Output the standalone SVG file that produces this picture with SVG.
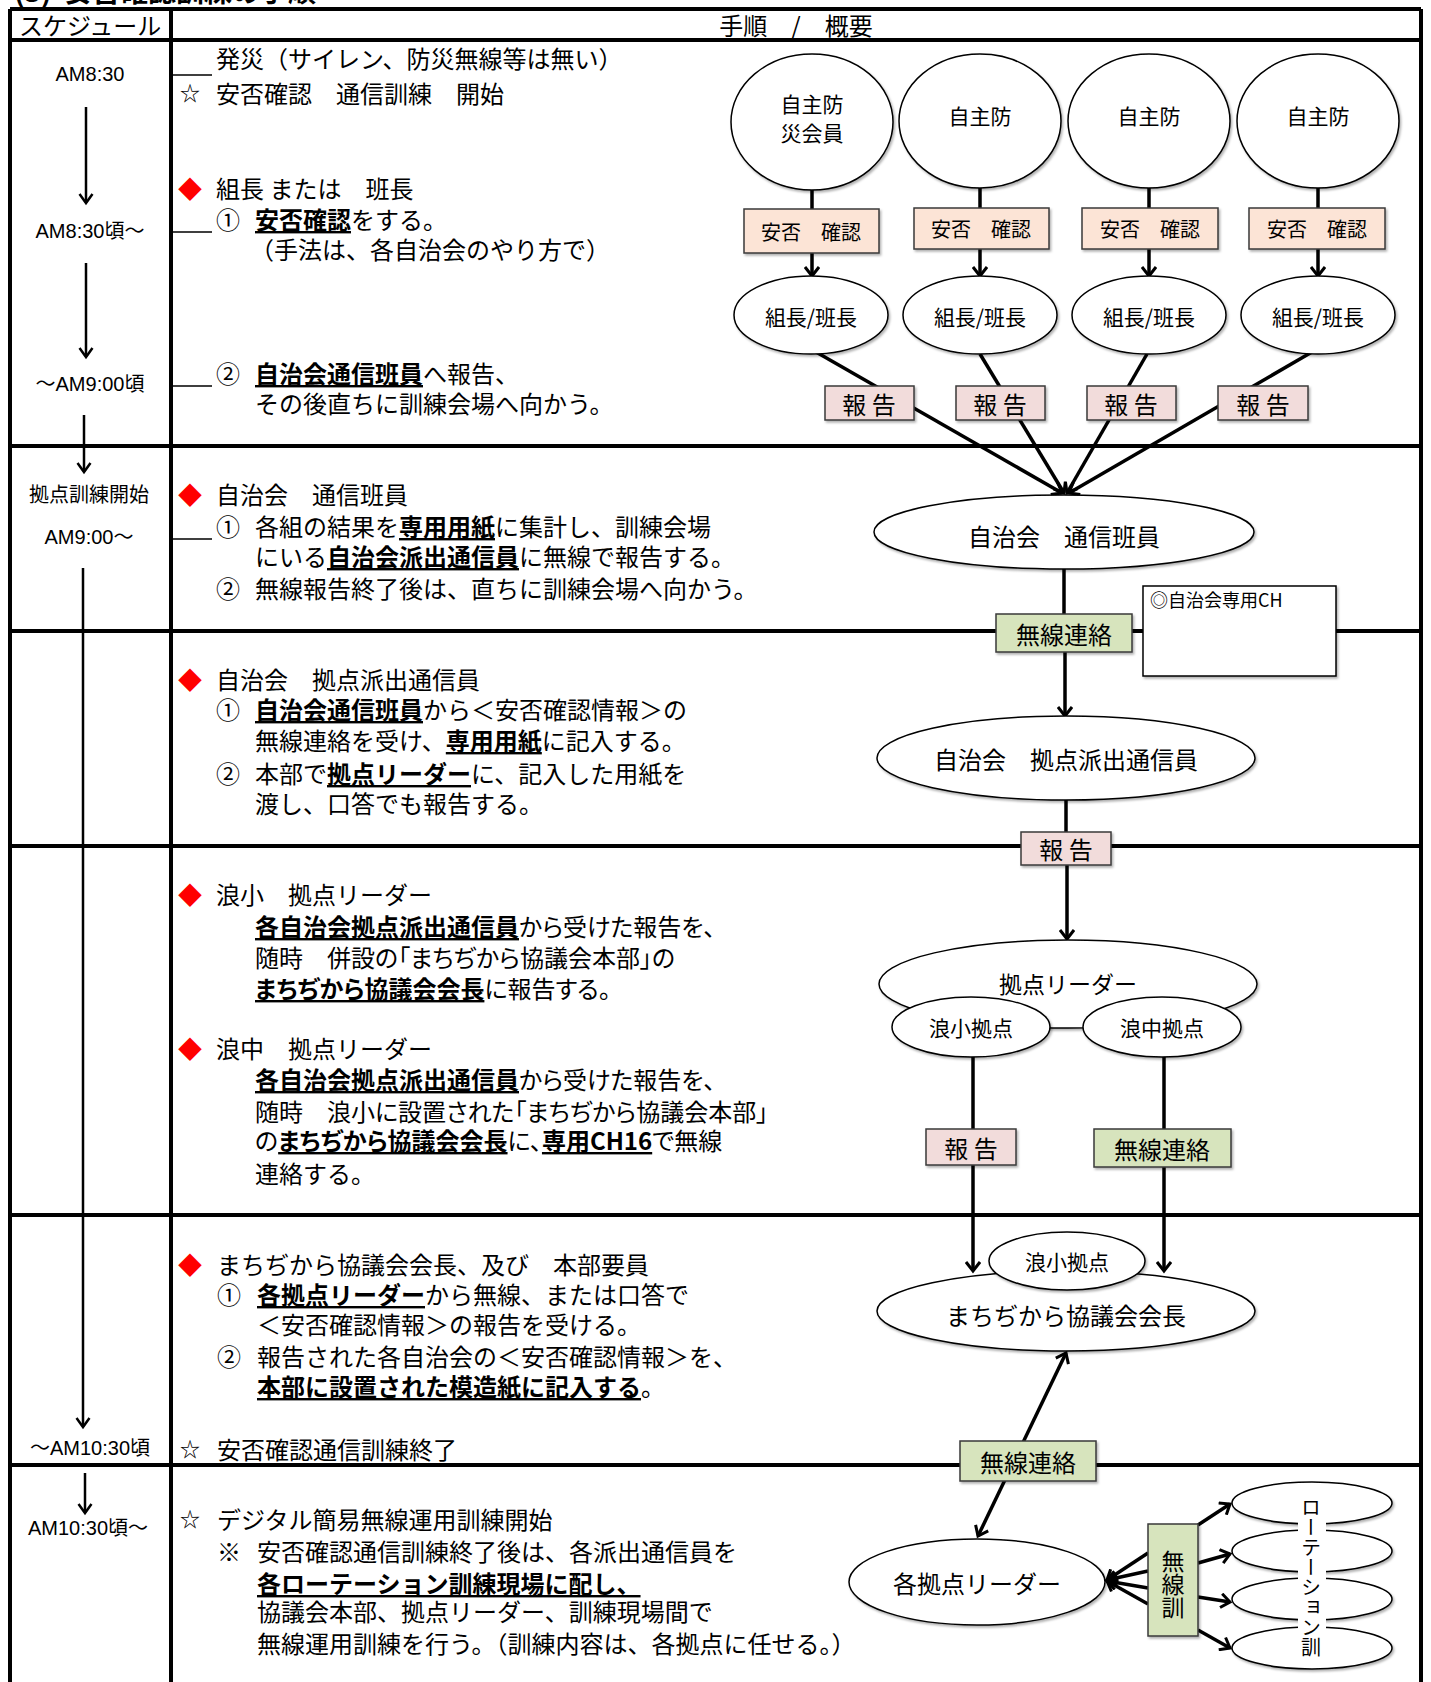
<svg xmlns="http://www.w3.org/2000/svg" width="1431" height="1682" viewBox="0 0 1431 1682">
<style>
.t{font-family:"Noto Sans CJK JP",sans-serif;font-size:24px;fill:#000;dominant-baseline:central}
.p{font-feature-settings:"palt"}
.b{font-weight:bold;text-decoration:underline}
.sym{font-family:"Noto Sans CJK JP",sans-serif;font-size:20px;fill:#000;text-anchor:middle;dominant-baseline:central}
.dia{font-family:"Noto Sans CJK JP",sans-serif;font-size:24px;fill:#f00;text-anchor:middle;dominant-baseline:central}
.s{font-family:"Liberation Sans","Noto Sans CJK JP",sans-serif;font-size:20px;fill:#000;text-anchor:middle;dominant-baseline:central}
.c{font-family:"Noto Sans CJK JP",sans-serif;fill:#000;text-anchor:middle;dominant-baseline:central}
.grid{stroke:#000;stroke-width:4;fill:none}
.tick{stroke:#000;stroke-width:1.6;fill:none}
.tl{stroke:#000;stroke-width:2.5;fill:none}
.node{fill:#fff;stroke:#000;stroke-width:1.5;filter:url(#sh)}
.peach{fill:#FCE4D6;stroke:#3a3a3a;stroke-width:1.5;filter:url(#sh)}
.pink{fill:#F2DCDB;stroke:#3a3a3a;stroke-width:1.5;filter:url(#sh)}
.green{fill:#D7E4BD;stroke:#3a3a3a;stroke-width:1.5;filter:url(#sh)}
.conn{stroke:#000;stroke-width:3.5;fill:none}
</style>
<defs>
<filter id="sh" x="-10%" y="-10%" width="125%" height="130%">
<feDropShadow dx="1.5" dy="2" stdDeviation="1.2" flood-color="#000" flood-opacity="0.3"/>
</filter>
<marker id="ar" markerUnits="userSpaceOnUse" markerWidth="16" markerHeight="16" refX="12" refY="8" orient="auto-start-reverse">
<path d="M3,1 L12,8 L3,15" fill="none" stroke="#000" stroke-width="3"/>
</marker>
<marker id="ars" markerUnits="userSpaceOnUse" markerWidth="16" markerHeight="16" refX="12" refY="8" orient="auto">
<path d="M3,1.5 L12,8 L3,14.5" fill="none" stroke="#000" stroke-width="2.5"/>
</marker>
</defs>
<rect width="1431" height="1682" fill="#fff"/>

<text class="t" style="font-size:28px;font-weight:bold;dominant-baseline:auto" x="14" y="2">(3)<tspan x="64">安否確認訓練の手順</tspan></text>

<g id="table">
<path class="grid" d="M10,9 H1421 M10,40 H1421 M10,446 H1421 M10,631 H1421 M10,846 H1421 M10,1215 H1421 M10,1465 H1421 M10,9 V1682 M171,9 V1682 M1421,9 V1682"/>
<text class="t" x="19" y="24">スケジュール</text>
<text class="t" x="796" y="24" style="text-anchor:middle">手順　/　概要</text>
</g>

<g id="schedule">
<text class="s" x="90" y="74">AM8:30</text>
<text class="s" x="90" y="231">AM8:30頃～</text>
<text class="s" x="90" y="384">～AM9:00頃</text>
<text class="s" x="89" y="495">拠点訓練開始</text>
<text class="s" x="89" y="537">AM9:00～</text>
<text class="s" x="90" y="1448">～AM10:30頃</text>
<text class="s" x="88" y="1528">AM10:30頃～</text>
<path class="tl" marker-end="url(#ars)" d="M86,107 V203"/>
<path class="tl" marker-end="url(#ars)" d="M86,263 V357"/>
<path class="tl" marker-end="url(#ars)" d="M84,415 V472"/>
<path class="tl" marker-end="url(#ars)" d="M83,568 V1427"/>
<path class="tl" marker-end="url(#ars)" d="M85,1473 V1513"/>
<path class="tick" d="M172,75 H212 M172,232 H212 M172,386 H212 M172,539 H212"/>
</g>

<g id="procedure">
<text class="t" x="216" y="57">発災（サイレン、防災無線等は無い）</text>
<text class="sym" x="190" y="92">☆</text>
<text class="t" x="216" y="92">安否確認　通信訓練　開始</text>
<text class="dia" x="190" y="187">◆</text>
<text class="t" x="216" y="187">組長 または　班長</text>
<text class="t" x="216" y="218">①</text>
<text class="t" x="255" y="218"><tspan class="b">安否確認</tspan>をする。</text>
<text class="t" x="250" y="248">（手法は、各自治会のやり方で）</text>
<text class="t" x="216" y="372">②</text>
<text class="t" x="255" y="372"><tspan class="b">自治会通信班員</tspan>へ報告、</text>
<text class="t" x="255" y="402">その後直ちに訓練会場へ向かう。</text>

<text class="dia" x="190" y="493">◆</text>
<text class="t" x="216" y="493">自治会　通信班員</text>
<text class="t" x="216" y="525">①</text>
<text class="t" x="255" y="525">各組の結果を<tspan class="b">専用用紙</tspan>に集計し、訓練会場</text>
<text class="t" x="255" y="555">にいる<tspan class="b">自治会派出通信員</tspan>に無線で報告する。</text>
<text class="t" x="216" y="587">②</text>
<text class="t" x="255" y="587">無線報告終了後は、直ちに訓練会場へ向かう。</text>

<text class="dia" x="190" y="678">◆</text>
<text class="t" x="216" y="678">自治会　拠点派出通信員</text>
<text class="t" x="216" y="708">①</text>
<text class="t" x="255" y="708"><tspan class="b">自治会通信班員</tspan>から＜安否確認情報＞の</text>
<text class="t" x="255" y="739">無線連絡を受け、<tspan class="b">専用用紙</tspan>に記入する。</text>
<text class="t" x="216" y="772">②</text>
<text class="t" x="255" y="772">本部で<tspan class="b">拠点リーダー</tspan>に、記入した用紙を</text>
<text class="t" x="255" y="802">渡し、口答でも報告する。</text>

<text class="dia" x="190" y="893">◆</text>
<text class="t" x="216" y="893">浪小　拠点リーダー</text>
<text class="t p" x="255" y="925"><tspan class="b">各自治会拠点派出通信員</tspan>から受けた報告を、</text>
<text class="t p" x="255" y="956">随時　併設の「まちぢから協議会本部」の</text>
<text class="t p" x="255" y="987"><tspan class="b">まちぢから協議会会長</tspan>に報告する。</text>
<text class="dia" x="190" y="1047">◆</text>
<text class="t" x="216" y="1047">浪中　拠点リーダー</text>
<text class="t p" x="255" y="1078"><tspan class="b">各自治会拠点派出通信員</tspan>から受けた報告を、</text>
<text class="t p" x="255" y="1110">随時　浪小に設置された「まちぢから協議会本部」</text>
<text class="t p" x="255" y="1139">の<tspan class="b">まちぢから協議会会長</tspan>に、<tspan class="b">専用CH16</tspan>で無線</text>
<text class="t" x="255" y="1172">連絡する。</text>

<text class="dia" x="190" y="1263">◆</text>
<text class="t" x="217" y="1263">まちぢから協議会会長、及び　本部要員</text>
<text class="t" x="217" y="1293">①</text>
<text class="t" x="257" y="1293"><tspan class="b">各拠点リーダー</tspan>から無線、または口答で</text>
<text class="t" x="257" y="1323">＜安否確認情報＞の報告を受ける。</text>
<text class="t" x="217" y="1355">②</text>
<text class="t" x="257" y="1355">報告された各自治会の＜安否確認情報＞を、</text>
<text class="t" x="257" y="1385"><tspan class="b">本部に設置された模造紙に記入する</tspan>。</text>
<text class="sym" x="190" y="1448">☆</text>
<text class="t" x="217" y="1448">安否確認通信訓練終了</text>

<text class="sym" x="190" y="1518">☆</text>
<text class="t" x="217" y="1518">デジタル簡易無線運用訓練開始</text>
<text class="t" x="217" y="1550">※</text>
<text class="t" x="257" y="1550">安否確認通信訓練終了後は、各派出通信員を</text>
<text class="t" x="257" y="1582"><tspan class="b">各ローテーション訓練現場に配し、</tspan></text>
<text class="t" x="257" y="1610">協議会本部、拠点リーダー、訓練現場間で</text>
<text class="t" x="257" y="1642">無線運用訓練を行う。（訓練内容は、各拠点に任せる。）</text>
</g>

<g id="connectors">
<path class="conn" d="M812,190 V209 M980,188 V208 M1149,188 V208 M1318,188 V208"/>
<path class="conn" marker-end="url(#ar)" d="M812,253 V276"/>
<path class="conn" marker-end="url(#ar)" d="M980,249 V276"/>
<path class="conn" marker-end="url(#ar)" d="M1149,249 V276"/>
<path class="conn" marker-end="url(#ar)" d="M1318,249 V276"/>
<path class="conn" marker-end="url(#ar)" d="M816,352 L1062,493"/>
<path class="conn" marker-end="url(#ar)" d="M980,354 L1064,493"/>
<path class="conn" marker-end="url(#ar)" d="M1147,354 L1067,493"/>
<path class="conn" marker-end="url(#ar)" d="M1312,352 L1069,493"/>
<path class="conn" d="M1064,569 V614"/>
<path class="conn" marker-end="url(#ar)" d="M1065,652 V716"/>
<path class="conn" d="M1066,800 V832"/>
<path class="conn" marker-end="url(#ar)" d="M1067,865 V939"/>
<path d="M1049,1026 H1084" stroke="#555" stroke-width="2"/>
<path class="conn" marker-end="url(#ar)" d="M973,1057 V1271"/>
<path class="conn" marker-end="url(#ar)" d="M1164,1057 V1271"/>
<path class="conn" marker-start="url(#ar)" marker-end="url(#ar)" d="M1066,1353 L978,1536"/>
<path class="conn" marker-end="url(#ar)" d="M1148,1553 L1107,1580"/>
<path class="conn" marker-end="url(#ar)" d="M1148,1571 L1107,1580"/>
<path class="conn" marker-end="url(#ar)" d="M1148,1588 L1107,1581"/>
<path class="conn" marker-end="url(#ar)" d="M1148,1604 L1107,1581"/>
<path class="conn" marker-end="url(#ar)" d="M1198,1525 L1230,1504"/>
<path class="conn" marker-end="url(#ar)" d="M1198,1563 L1230,1554"/>
<path class="conn" marker-end="url(#ar)" d="M1198,1597 L1230,1602"/>
<path class="conn" marker-end="url(#ar)" d="M1198,1630 L1230,1648"/>
</g>

<g id="n-jishu1"><ellipse class="node" cx="812" cy="122" rx="81" ry="68"/><text class="c" x="812" y="103" font-size="21">自主防</text><text class="c" x="812" y="132" font-size="21">災会員</text></g>
<g id="n-jishu2"><ellipse class="node" cx="980" cy="121" rx="81" ry="67"/><text class="c" x="980" y="115" font-size="21">自主防</text></g>
<g id="n-jishu3"><ellipse class="node" cx="1149" cy="121" rx="81" ry="67"/><text class="c" x="1149" y="115" font-size="21">自主防</text></g>
<g id="n-jishu4"><ellipse class="node" cx="1318" cy="121" rx="81" ry="67"/><text class="c" x="1318" y="115" font-size="21">自主防</text></g>

<g id="n-anpi1"><rect class="peach" x="744" y="209" width="135" height="44"/><text class="c" x="811" y="231" font-size="20">安否　確認</text></g>
<g id="n-anpi2"><rect class="peach" x="914" y="208" width="135" height="41"/><text class="c" x="981" y="228" font-size="20">安否　確認</text></g>
<g id="n-anpi3"><rect class="peach" x="1082" y="208" width="136" height="41"/><text class="c" x="1150" y="228" font-size="20">安否　確認</text></g>
<g id="n-anpi4"><rect class="peach" x="1249" y="208" width="136" height="41"/><text class="c" x="1317" y="228" font-size="20">安否　確認</text></g>

<g id="n-kumi1"><ellipse class="node" cx="811" cy="315" rx="77" ry="39"/><text class="c" x="811" y="316" font-size="21">組長/班長</text></g>
<g id="n-kumi2"><ellipse class="node" cx="980" cy="315" rx="77" ry="39"/><text class="c" x="980" y="316" font-size="21">組長/班長</text></g>
<g id="n-kumi3"><ellipse class="node" cx="1149" cy="315" rx="77" ry="39"/><text class="c" x="1149" y="316" font-size="21">組長/班長</text></g>
<g id="n-kumi4"><ellipse class="node" cx="1318" cy="315" rx="77" ry="39"/><text class="c" x="1318" y="316" font-size="21">組長/班長</text></g>

<g id="n-hokoku1"><rect class="pink" x="825" y="386" width="89" height="34"/><text class="c" x="869" y="403" font-size="24">報 告</text></g>
<g id="n-hokoku2"><rect class="pink" x="956" y="386" width="89" height="34"/><text class="c" x="1000" y="403" font-size="24">報 告</text></g>
<g id="n-hokoku3"><rect class="pink" x="1087" y="386" width="89" height="34"/><text class="c" x="1131" y="403" font-size="24">報 告</text></g>
<g id="n-hokoku4"><rect class="pink" x="1218" y="386" width="90" height="34"/><text class="c" x="1263" y="403" font-size="24">報 告</text></g>

<g id="n-tsushin"><ellipse class="node" cx="1064" cy="532" rx="190" ry="37"/><text class="c" x="1064" y="535" font-size="24">自治会　通信班員</text></g>
<g id="n-musen1"><rect class="green" x="996" y="614" width="136" height="38"/><text class="c" x="1064" y="633" font-size="24">無線連絡</text></g>
<g id="n-ch"><rect class="node" x="1143" y="586" width="193" height="90"/><text class="t" x="1150" y="599" style="font-size:18px">◎自治会専用CH</text></g>
<g id="n-haken"><ellipse class="node" cx="1066" cy="758" rx="189" ry="42"/><text class="c" x="1066" y="758" font-size="24">自治会　拠点派出通信員</text></g>
<g id="n-hokoku5"><rect class="pink" x="1021" y="832" width="90" height="33"/><text class="c" x="1066" y="848" font-size="24">報 告</text></g>

<g id="n-leader"><ellipse class="node" cx="1068" cy="984" rx="189" ry="44"/><text class="c" x="1068" y="983" font-size="23">拠点リーダー</text></g>
<g id="n-namisho"><ellipse class="node" cx="971" cy="1027" rx="79" ry="30"/><text class="c" x="971" y="1027" font-size="21">浪小拠点</text></g>
<g id="n-naminaka"><ellipse class="node" cx="1162" cy="1027" rx="79" ry="30"/><text class="c" x="1162" y="1027" font-size="21">浪中拠点</text></g>
<g id="n-hokoku6"><rect class="pink" x="926" y="1129" width="90" height="36"/><text class="c" x="971" y="1147" font-size="24">報 告</text></g>
<g id="n-musen2"><rect class="green" x="1094" y="1129" width="137" height="38"/><text class="c" x="1162" y="1148" font-size="24">無線連絡</text></g>

<g id="n-kaicho"><ellipse class="node" cx="1066" cy="1311" rx="189" ry="40"/><text class="c" x="1066" y="1314" font-size="24">まちぢから協議会会長</text></g>
<g id="n-namisho2"><ellipse class="node" cx="1067" cy="1261" rx="78" ry="29"/><text class="c" x="1067" y="1261" font-size="21">浪小拠点</text></g>
<g id="n-musen3"><rect class="green" x="960" y="1441" width="136" height="40"/><text class="c" x="1028" y="1461" font-size="24">無線連絡</text></g>

<g id="n-kakuleader"><ellipse class="node" cx="977" cy="1582" rx="128" ry="43"/><text class="c" x="977" y="1582" font-size="24">各拠点リーダー</text></g>
<g id="n-musenkun"><rect class="green" x="1148" y="1524" width="50" height="112"/><text class="c" x="1173" y="1584" font-size="23" style="writing-mode:vertical-rl;text-orientation:upright">無線訓</text></g>
<g id="n-rotation">
<ellipse class="node" cx="1312" cy="1503" rx="80" ry="21"/>
<ellipse class="node" cx="1312" cy="1551" rx="80" ry="21"/>
<ellipse class="node" cx="1312" cy="1599" rx="80" ry="21"/>
<ellipse class="node" cx="1312" cy="1648" rx="80" ry="21"/>
<rect x="1298" y="1492" width="28" height="170" fill="#fff"/>
<text class="c" x="1311" y="1577" font-size="20" style="writing-mode:vertical-rl">ローテーション訓</text>
</g>
</svg>
